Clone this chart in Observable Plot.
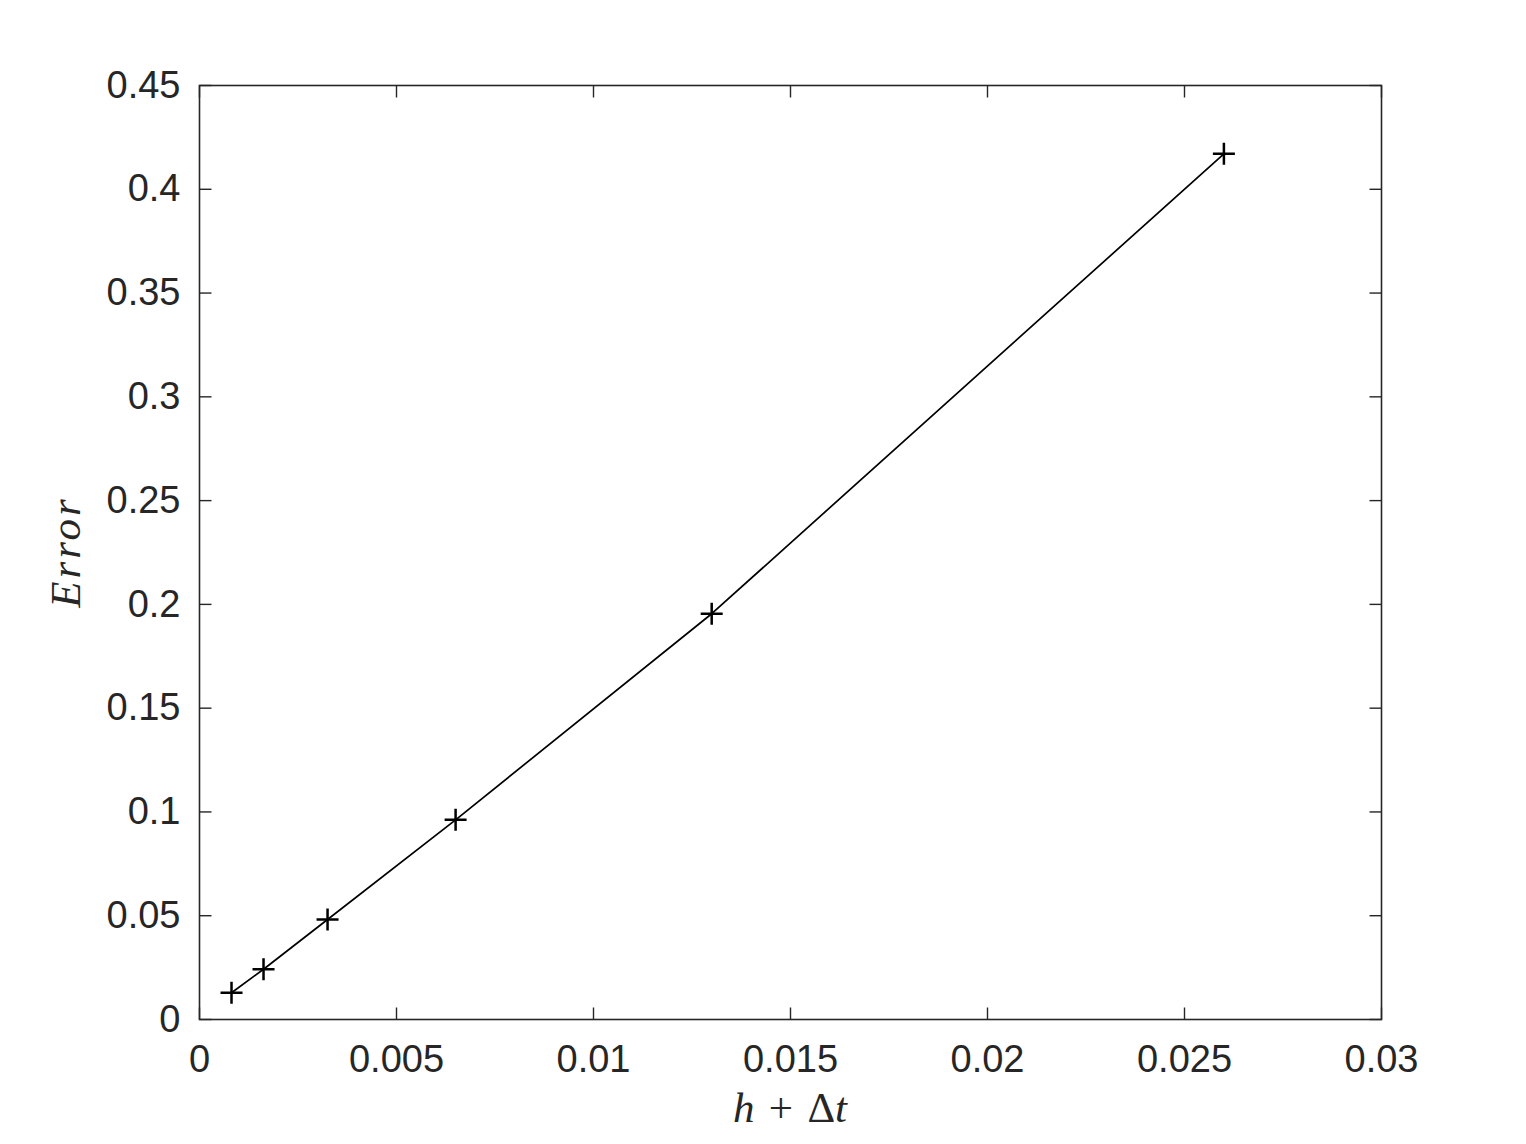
<!DOCTYPE html>
<html>
<head>
<meta charset="utf-8">
<script src="https://cdn.jsdelivr.net/npm/d3@7"></script>
<script src="https://cdn.jsdelivr.net/npm/@observablehq/plot@0.6"></script>
<style>
  html, body { margin: 0; padding: 0; background: #fff; }
  #chart svg { display: block; }
</style>
</head>
<body>
<div id="chart"></div>
<script>
// Data
const stepSize = [0.0008125, 0.001625, 0.00325, 0.0065, 0.013, 0.026];
const errorVal = [0.0129, 0.0242, 0.0482, 0.0962, 0.1955, 0.4171];

const xTicks = [0, 0.005, 0.01, 0.015, 0.02, 0.025, 0.03];
const xTickLabels = ["0", "0.005", "0.01", "0.015", "0.02", "0.025", "0.03"];
const yTicks = [0, 0.05, 0.1, 0.15, 0.2, 0.25, 0.3, 0.35, 0.4, 0.45];
const yTickLabels = ["0", "0.05", "0.1", "0.15", "0.2", "0.25", "0.3", "0.35", "0.4", "0.45"];

const data = stepSize.map((x, i) => ({x, y: errorVal[i]}));

const ink = "#262626";
const tickLen = 12;
const labelFont = "Liberation Sans, Arial, Helvetica, sans-serif";

// stroke-only symbols for inward ticks and plus markers
const segSymbol = (dx, dy) => ({draw(ctx) { ctx.moveTo(0, 0); ctx.lineTo(dx, dy); }});
const tickUp = segSymbol(0, -tickLen);
const tickDown = segSymbol(0, tickLen);
const tickRight = segSymbol(tickLen, 0);
const tickLeft = segSymbol(-tickLen, 0);
const plusSym = {draw(ctx) { const h = 11; ctx.moveTo(-h, 0); ctx.lineTo(h, 0); ctx.moveTo(0, -h); ctx.lineTo(0, h); }};

const plot = Plot.plot({
  width: 1526,
  height: 1144,
  marginLeft: 199,
  marginRight: 145,
  marginTop: 85,
  marginBottom: 125,
  style: {background: "#fff", fontFamily: labelFont, fontSize: "38px", color: ink},
  x: {domain: [0, 0.03], label: null, ticks: xTicks, tickSize: 0, tickPadding: 26,
      tickFormat: (d) => xTickLabels[xTicks.indexOf(d)]},
  y: {domain: [0, 0.45], label: null, ticks: yTicks, tickSize: 0, tickPadding: 19,
      tickFormat: (d) => yTickLabels[yTicks.indexOf(d)]},
  marks: [
    Plot.dot(xTicks, {x: (d) => d, frameAnchor: "bottom", symbol: tickUp, stroke: ink, fill: "none", strokeWidth: 1.4}),
    Plot.dot(xTicks, {x: (d) => d, frameAnchor: "top", symbol: tickDown, stroke: ink, fill: "none", strokeWidth: 1.4}),
    Plot.dot(yTicks, {y: (d) => d, frameAnchor: "left", symbol: tickRight, stroke: ink, fill: "none", strokeWidth: 1.4}),
    Plot.dot(yTicks, {y: (d) => d, frameAnchor: "right", symbol: tickLeft, stroke: ink, fill: "none", strokeWidth: 1.4}),
    Plot.frame({stroke: ink, strokeWidth: 1.6}),
    Plot.line(data, {x: "x", y: "y", stroke: "#000", strokeWidth: 1.7}),
    Plot.dot(data, {x: "x", y: "y", symbol: plusSym, stroke: "#000", fill: "none", strokeWidth: 2.5})
  ]
});

document.getElementById("chart").appendChild(plot);

// axis titles with LaTeX-like mixed styling
const svg = d3.select(plot);
const serif = "Liberation Serif, 'Times New Roman', DejaVu Serif, serif";
const xl = svg.append("text")
  .attr("x", 790).attr("y", 1122)
  .attr("text-anchor", "middle")
  .attr("font-family", serif)
  .attr("font-size", 43)
  .attr("fill", ink)
  .style("white-space", "pre");
xl.append("tspan").attr("font-style", "italic").text("h");
xl.append("tspan").text("\u2004+\u2004Δ");
xl.append("tspan").attr("font-style", "italic").text("t");

svg.append("text")
  .attr("transform", "translate(80,552) rotate(-90)")
  .attr("text-anchor", "middle")
  .attr("font-family", serif)
  .attr("font-size", 43)
  .attr("font-style", "italic")
  .attr("letter-spacing", 3)
  .attr("fill", ink)
  .text("Error");
</script>
</body>
</html>
